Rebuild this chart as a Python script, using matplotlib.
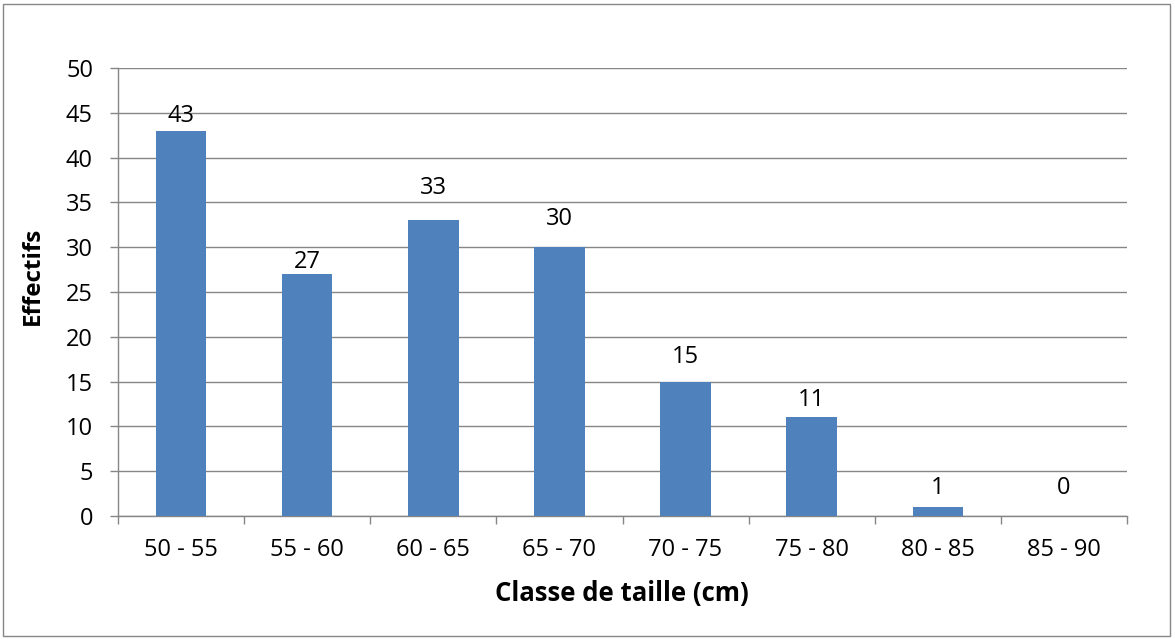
import matplotlib
matplotlib.use("Agg")
import matplotlib.pyplot as plt
from matplotlib.patches import Rectangle

categories = ["50 - 55", "55 - 60", "60 - 65", "65 - 70", "70 - 75", "75 - 80", "80 - 85", "85 - 90"]
effectifs = [43, 27, 33, 30, 15, 11, 1, 0]
yticks = [0, 5, 10, 15, 20, 25, 30, 35, 40, 45, 50]
# label placement offsets above bars (data units), as laid out in the reference
label_offsets = [1.6, 1.4, 3.6, 3.1, 2.7, 2.0, 2.1, 3.1]

plt.rcParams['font.family'] = ['Open Sans', 'DejaVu Sans']

fig = plt.figure(figsize=(11.75, 6.39), dpi=100)
fig.patches.append(Rectangle((3/1175, 3/639), 1167/1175, 632/639, transform=fig.transFigure,
                             fill=False, edgecolor='#868686', linewidth=1.0))
ax = fig.add_axes([118/1175, (639-516)/639, (1127-118)/1175, (516-68)/639])

grid_c = '#868686'
fs = 17
x = list(range(len(categories)))
ax.bar(x, effectifs, width=0.4, color='#4F81BD', zorder=3)
ax.set_xlim(-0.5, len(categories) - 0.5)
ax.set_ylim(0, 50)
ax.set_yticks(yticks)
ax.set_yticklabels([str(v) for v in yticks])
ax.yaxis.grid(True, color=grid_c, linewidth=1.0, zorder=0)
ax.set_axisbelow(True)

ax.set_xticks(x)
ax.set_xticklabels(categories)
ax.set_xticks([i - 0.5 for i in range(len(categories) + 1)], minor=True)
ax.tick_params(axis='x', which='major', length=0, pad=16, labelsize=fs, colors='black')
ax.tick_params(axis='x', which='minor', length=6, width=1.0, color=grid_c, direction='out')
ax.tick_params(axis='y', length=6, width=1.0, color=grid_c, pad=12, labelsize=fs)

for s in ['top', 'right']:
    ax.spines[s].set_visible(False)
for s in ['left', 'bottom']:
    ax.spines[s].set_color(grid_c)
    ax.spines[s].set_linewidth(1.0)

for xi, v, off in zip(x, effectifs, label_offsets):
    ax.text(xi, v + off, str(v), ha='center', va='center', fontsize=fs, zorder=4)

ax.set_xlabel("Classe de taille (cm)", fontsize=18.5, fontweight='bold', va='center', ha='center')
ax.xaxis.set_label_coords(0.4995, (516 - 593) / 448)
ax.set_ylabel("Effectifs", fontsize=17.5, fontweight='bold', va='center', ha='center')
ax.yaxis.set_label_coords((33 - 118) / 1009, (516 - 276) / 448)

fig.savefig("out.png", dpi=100)
